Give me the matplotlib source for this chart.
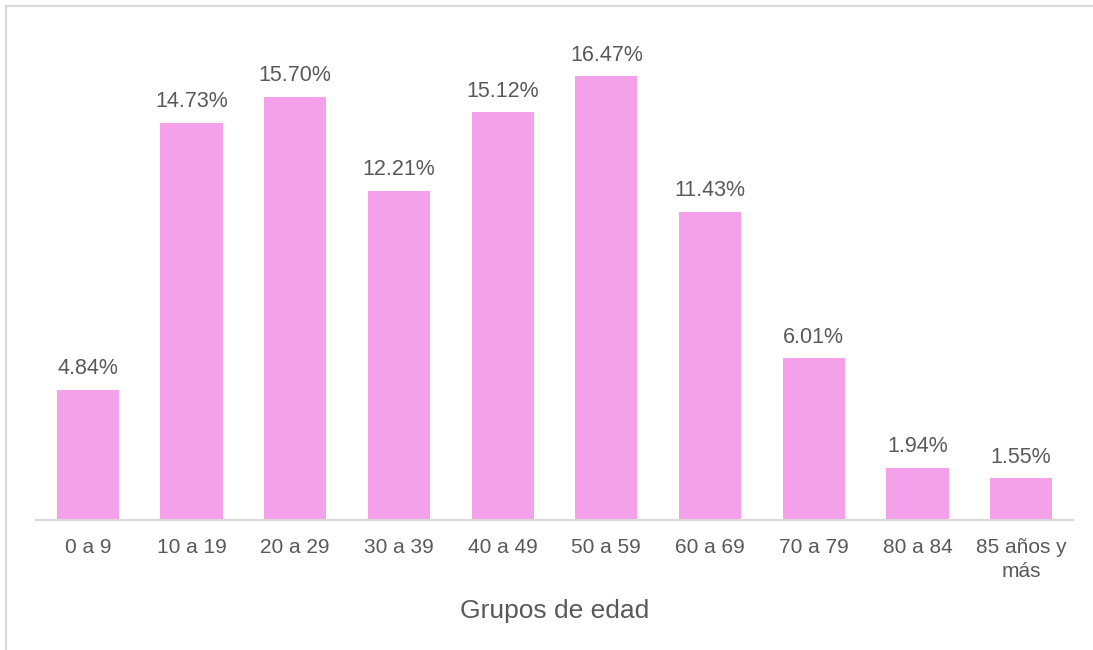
import numpy as np
import matplotlib.pyplot as plt
from matplotlib.lines import Line2D

plt.rcParams['font.family'] = ['Liberation Sans', 'DejaVu Sans']

# ── Data ──────────────────────────────────────────────────────────────────────
grupos = ["0 a 9", "10 a 19", "20 a 29", "30 a 39", "40 a 49",
          "50 a 59", "60 a 69", "70 a 79", "80 a 84", "85 años y\nmás"]
porcentajes = [4.84, 14.73, 15.70, 12.21, 15.12, 16.47, 11.43, 6.01, 1.94, 1.55]

BAR_COLOR  = "#F4A1E9"
TEXT_COLOR = "#595959"
LINE_COLOR = "#D9D9D9"

fig = plt.figure(figsize=(10.93, 6.5), dpi=100)
ax = fig.add_axes([0.0329, 0.2, 0.9488, 0.7466])

x = np.arange(len(grupos))
bars = ax.bar(x, porcentajes, width=0.6, color=BAR_COLOR, zorder=2)

for b, v in zip(bars, porcentajes):
    ax.annotate(f"{v:.2f}%", (b.get_x() + b.get_width() / 2, v),
                xytext=(0, 7.5), textcoords="offset points",
                ha="center", va="bottom", fontsize=15.5, color=TEXT_COLOR)

ax.set_xlim(-0.5, len(grupos) - 0.5)
ax.set_ylim(0, 18)
ax.set_yticks([])
ax.set_xticks(x)
ax.set_xticklabels(grupos, fontsize=15, color=TEXT_COLOR, linespacing=1.3)
ax.tick_params(axis="x", length=0, pad=13)
for side in ["top", "right", "left"]:
    ax.spines[side].set_visible(False)
ax.spines["bottom"].set_color(LINE_COLOR)
ax.spines["bottom"].set_linewidth(1.5)

ax.set_xlabel("Grupos de edad", fontsize=19, color=TEXT_COLOR, labelpad=13)

# outer frame (top and left edges)
fig.add_artist(Line2D([6 / 1093, 1.0], [1 - 6 / 650, 1 - 6 / 650],
                      transform=fig.transFigure, color=LINE_COLOR, lw=1.5))
fig.add_artist(Line2D([6 / 1093, 6 / 1093], [0.0, 1 - 6 / 650],
                      transform=fig.transFigure, color=LINE_COLOR, lw=1.5))

fig.savefig("out.png", dpi=100)
